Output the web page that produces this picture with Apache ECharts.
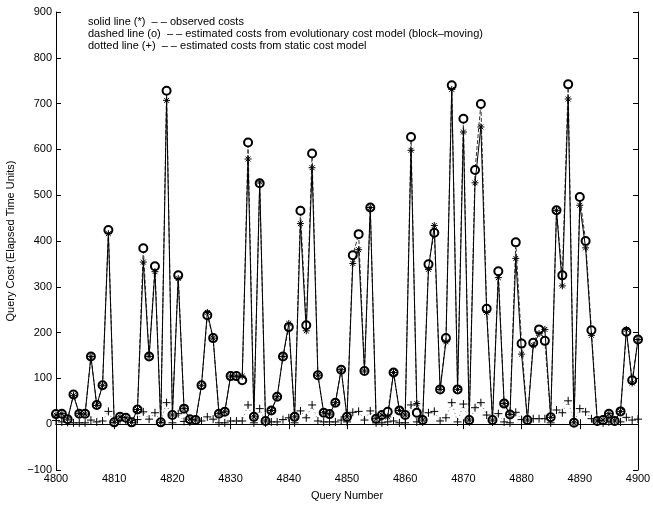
<!DOCTYPE html>
<html>
<head>
<meta charset="utf-8">
<script src="https://cdn.jsdelivr.net/npm/echarts@6/dist/echarts.min.js"></script>
<style>
  html, body { margin: 0; padding: 0; background: #fff; }
  #chart { width: 653px; height: 506px; }
</style>
</head>
<body>
<div id="chart"></div>
<script>
// query numbers 4800..4900
const firstQuery = 4800;
const observed = [20, 23, 11, 63, 23, 22, 148, 41, 85, 416,
  4, 16, 14, 4, 32, 354, 148, 333, 4, 707,
  20, 318, 34, 11, 9, 85, 244, 188, 23, 27,
  105, 105, 105, 579, 16, 529, 7, 30, 60, 148,
  220, 16, 438, 204, 560, 107, 25, 22, 47, 119,
  16, 351, 381, 116, 473, 12, 20, 16, 113, 30,
  20, 598, 45, 9, 338, 434, 76, 180, 731, 76,
  638, 9, 527, 649, 244, 9, 320, 45, 21, 362,
  153, 9, 172, 198, 207, 15, 467, 302, 710, 3,
  478, 385, 194, 7, 9, 23, 7, 28, 207, 90,
  185];
const evolutionary = [22, 23, 11, 65, 23, 23, 148, 42, 85, 424,
  4, 16, 14, 4, 32, 384, 148, 345, 4, 728,
  20, 325, 34, 11, 9, 85, 238, 188, 23, 27,
  105, 105, 96, 615, 16, 526, 7, 30, 60, 148,
  212, 16, 466, 216, 591, 107, 25, 22, 47, 119,
  16, 369, 415, 116, 473, 12, 20, 27, 113, 30,
  20, 627, 25, 9, 349, 418, 76, 188, 740, 76,
  667, 9, 555, 699, 252, 9, 334, 45, 21, 397,
  176, 9, 178, 207, 182, 15, 467, 325, 742, 3,
  496, 400, 205, 7, 9, 23, 7, 28, 202, 96,
  185];
const staticModel = [8, 5, 4, 3, 3, 3, 9, 5, 7, 28,
  3, 10, 8, 5, 10, 27, 11, 25, 6, 47,
  3, 23, 6, 5, 7, 7, 16, 11, 3, 3,
  7, 7, 7, 42, 3, 34, 3, 5, 5, 10,
  14, 3, 29, 14, 42, 7, 5, 5, 5, 9,
  5, 26, 28, 9, 29, 3, 3, 5, 7, 3,
  3, 42, 5, 5, 25, 28, 7, 14, 47, 5,
  44, 5, 36, 47, 20, 5, 23, 5, 3, 26,
  10, 9, 12, 12, 12, 3, 31, 25, 51, 5,
  34, 27, 12, 5, 3, 5, 5, 5, 15, 9,
  11];
const legendLines = [
  'solid line (*)  \u2013 \u2013 observed costs',
  'dashed line (o)  \u2013 \u2013 estimated costs from evolutionary cost model (block\u2013moving)',
  'dotted line (+)  \u2013 \u2013 estimated costs from static cost model'
];

const font = 'Liberation Sans, Arial, Helvetica, sans-serif';
const pairs = arr => arr.map((v, i) => [firstQuery + i, v]);

const starPath = 'path://M0,-1L0,1M-1,0L1,0M-0.7,-0.7L0.7,0.7M-0.7,0.7L0.7,-0.7';
const plusPath = 'path://M0,-1L0,1M-1,0L1,0';

let myChart = echarts.init(document.getElementById('chart'));

const xBase = {
  type: 'value', min: 4800, max: 4900, interval: 10,
  axisLine: { lineStyle: { color: '#000', width: 1 } },
  axisTick: { inside: true, length: 5, lineStyle: { color: '#000' } },
  splitLine: { show: false }
};
const yBase = {
  type: 'value', min: -100, max: 900, interval: 100,
  axisLine: { show: true, lineStyle: { color: '#000', width: 1 } },
  axisTick: { show: true, inside: true, length: 5, lineStyle: { color: '#000' } },
  splitLine: { show: false }
};

myChart.setOption({
  animation: false,
  grid: { left: 56, right: 15, top: 12, bottom: 36, containLabel: false, outerBoundsMode: 'none' },
  xAxis: [
    Object.assign({}, xBase, {
      position: 'bottom',
      name: 'Query Number', nameLocation: 'middle', nameGap: 20,
      nameTextStyle: { fontFamily: font, fontSize: 11, color: '#000' },
      axisLabel: { fontFamily: font, fontSize: 11, color: '#000', margin: 3,
        formatter: v => String(v) }
    }),
    Object.assign({}, xBase, { position: 'top', axisLabel: { show: false } })
  ],
  yAxis: [
    Object.assign({}, yBase, {
      position: 'left',
      name: 'Query Cost (Elapsed Time Units)', nameLocation: 'middle', nameGap: 40,
      nameTextStyle: { fontFamily: font, fontSize: 11, color: '#000' },
      axisLabel: { fontFamily: font, fontSize: 11, color: '#000', margin: 4,
        formatter: v => String(v).replace('-', '\u2212') }
    }),
    Object.assign({}, yBase, { position: 'right', axisLabel: { show: false } })
  ],
  graphic: legendLines.map((t, i) => ({
    type: 'text', left: 88, top: 16 + i * 12,
    style: { text: t, font: '11px ' + font, fill: '#000' }
  })),
  series: [
    {
      name: 'static', type: 'line', data: pairs(staticModel),
      symbol: plusPath, symbolSize: 8,
      lineStyle: { color: '#777', width: 1, type: [1, 3] },
      itemStyle: { color: 'none', borderColor: '#000', borderWidth: 1 },
      z: 2
    },
    {
      name: 'evolutionary', type: 'line', data: pairs(evolutionary),
      symbol: 'emptyCircle', symbolSize: 8,
      lineStyle: { color: '#333', width: 1, type: [4, 2] },
      itemStyle: { color: '#000', borderColor: '#000', borderWidth: 0.8 },
      z: 3
    },
    {
      name: 'observed', type: 'line', data: pairs(observed),
      symbol: starPath, symbolSize: 7,
      lineStyle: { color: '#000', width: 1 },
      itemStyle: { color: 'none', borderColor: '#000', borderWidth: 1 },
      z: 4
    }
  ]
});
</script>
</body>
</html>
